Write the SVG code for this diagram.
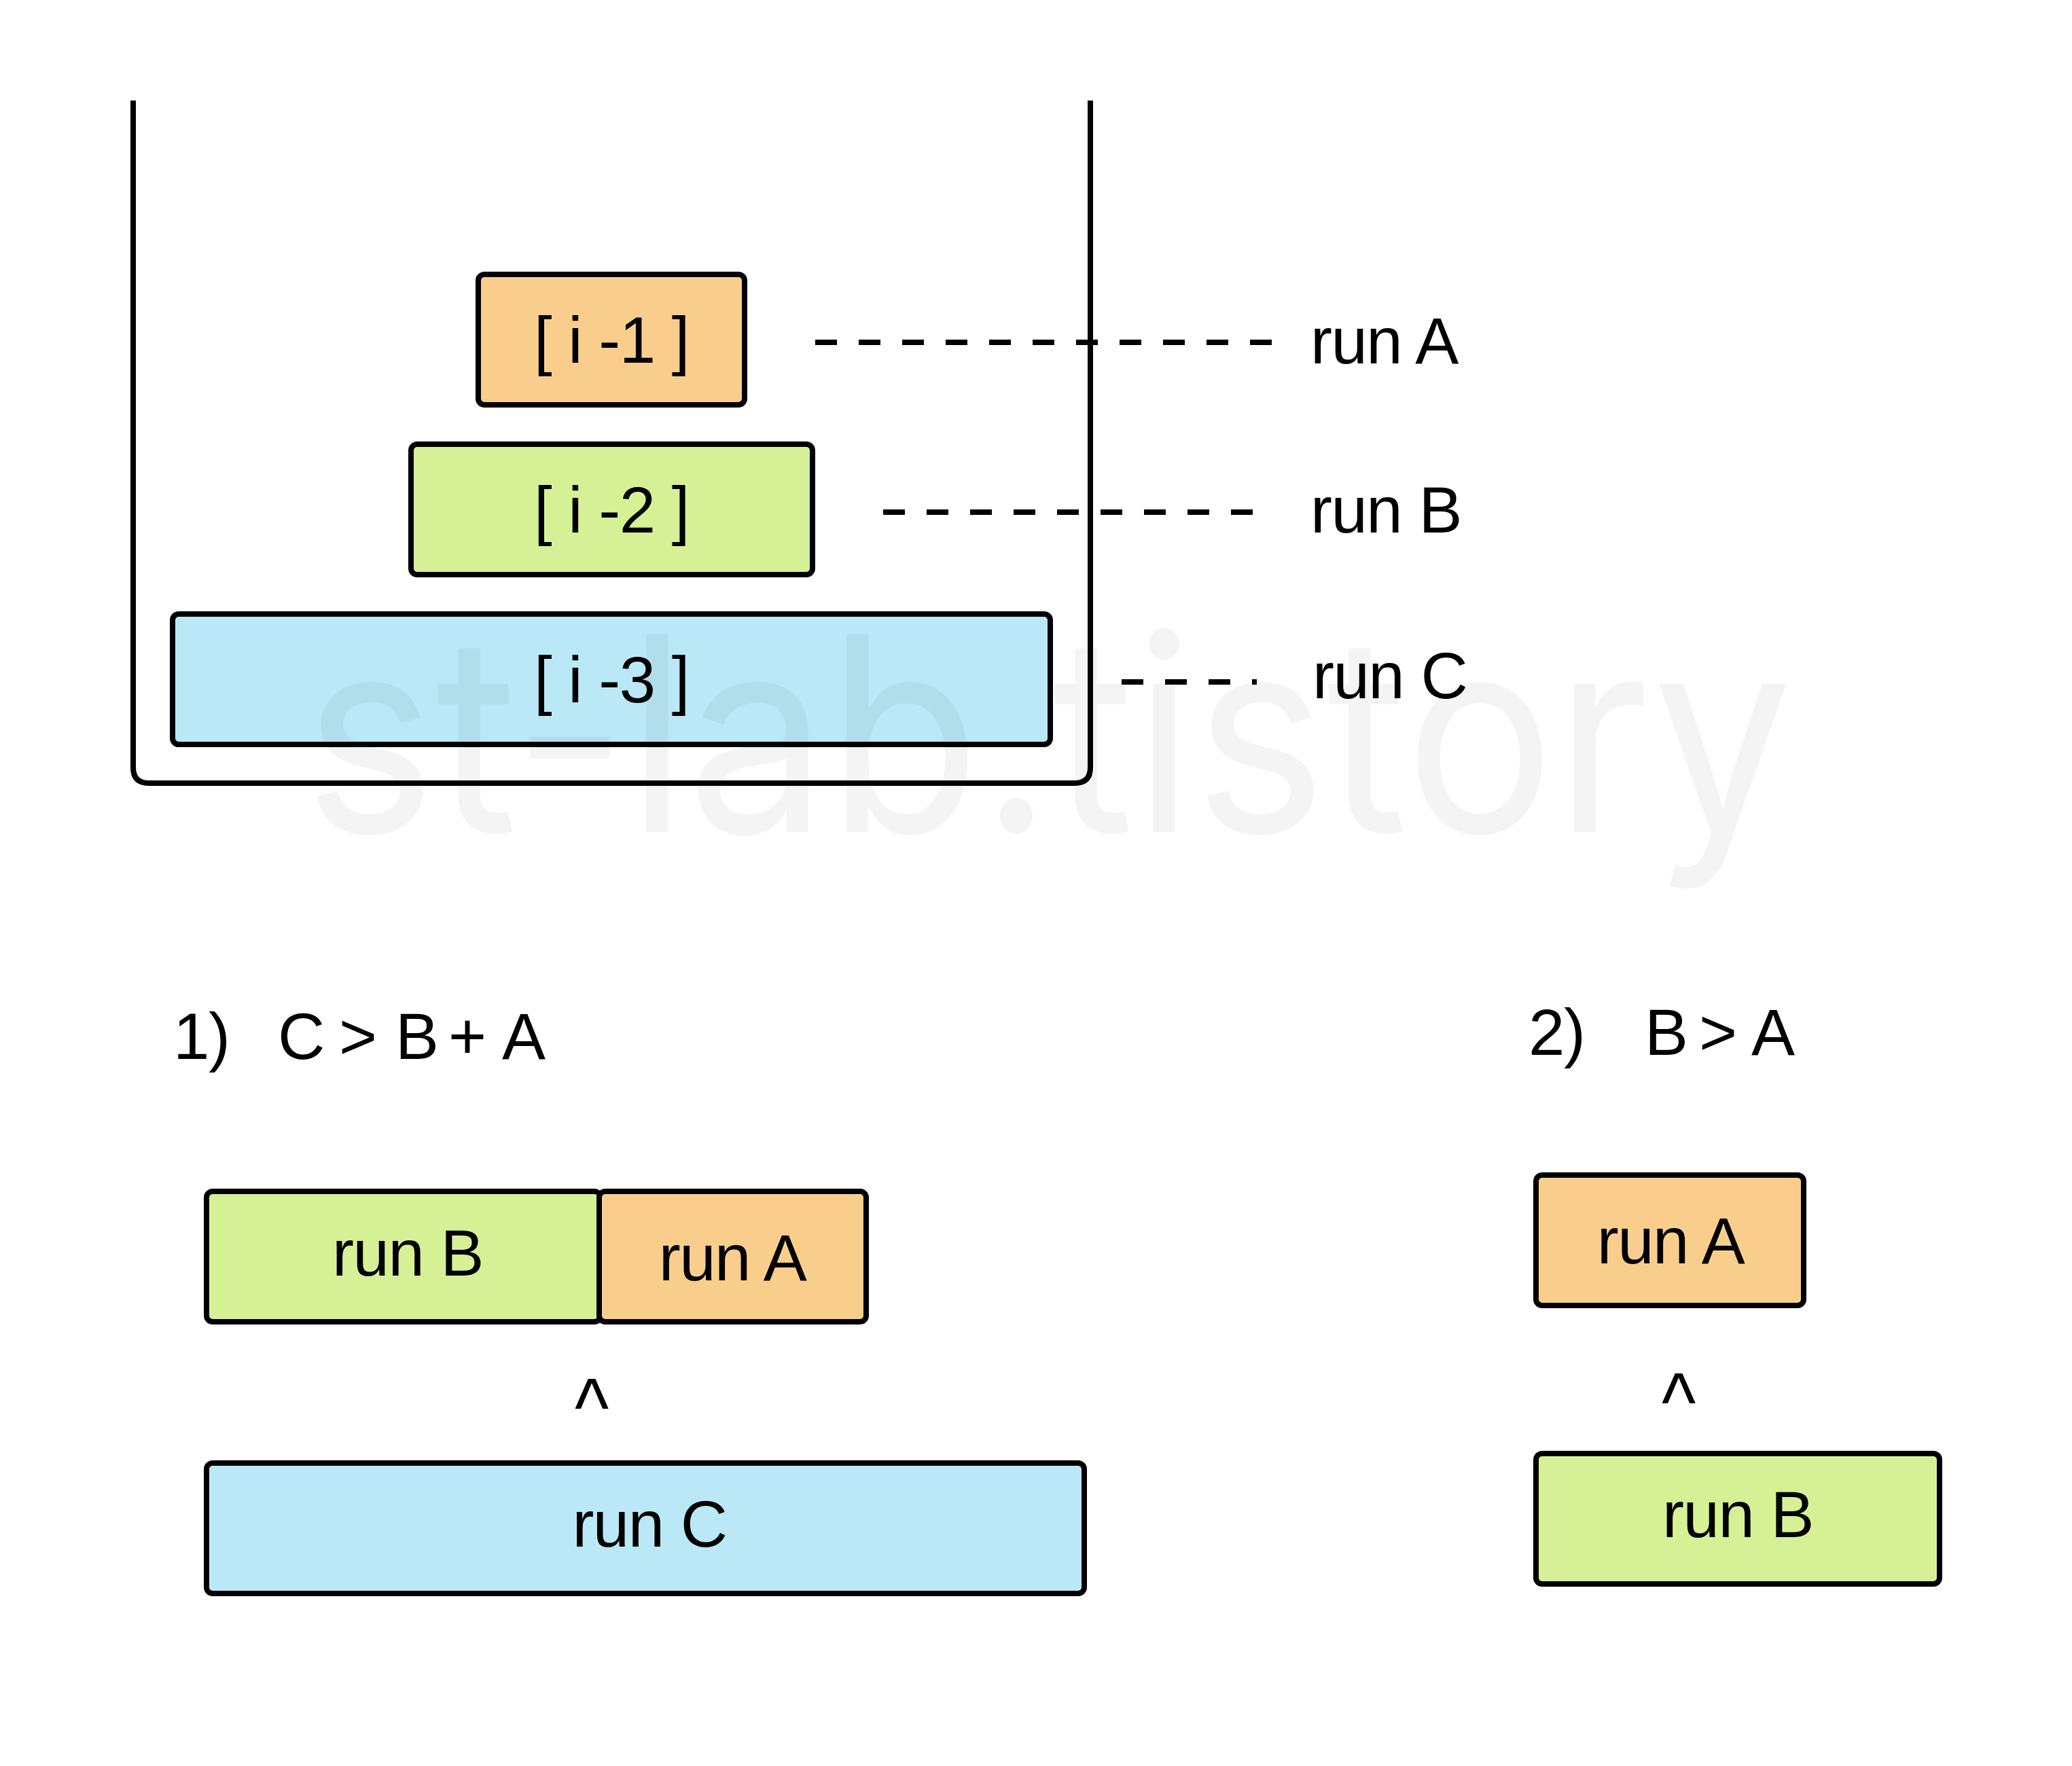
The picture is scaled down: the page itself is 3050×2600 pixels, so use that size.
<svg xmlns="http://www.w3.org/2000/svg" width="3050" height="2600" viewBox="0 0 3050 2600">
<style>
.box{stroke:#000;stroke-width:8}
.a{fill:#F9CE8C}.b{fill:#D6F096}.c{fill:#BAE8F7}
.t{font-family:"Liberation Sans",Arial,sans-serif;font-size:96px;fill:#000;letter-spacing:-1.5px}
.m{text-anchor:middle}
.caret{font-family:"Liberation Sans",Arial,sans-serif;font-size:123px;fill:#000;text-anchor:middle}
.dash{stroke:#000;stroke-width:8;stroke-dasharray:32 32;fill:none}
</style>
<rect width="3050" height="2600" fill="#fff"/>
<g id="container">
<path d="M196,148 V1130 Q196,1153 219,1153 H1582 Q1605,1153 1605,1130 V148" fill="none" stroke="#000" stroke-width="8"/>
</g>
<g id="stack-i1"><rect class="box a" x="704" y="404" width="392" height="192" rx="9"/><text class="t m" x="900" y="534">[ i -1 ]</text></g>
<g id="stack-i2"><rect class="box b" x="605" y="654" width="591" height="192" rx="9"/><text class="t m" x="900" y="784">[ i -2 ]</text></g>
<g id="stack-i3"><rect class="box c" x="254" y="904" width="1292" height="192" rx="9"/><text class="t m" x="900" y="1034">[ i -3 ]</text></g>
<g id="connectors">
<line class="dash" x1="1200" y1="504" x2="1872" y2="504"/>
<line class="dash" x1="1300" y1="754" x2="1844" y2="754"/>
<line class="dash" x1="1651" y1="1004" x2="1850" y2="1004"/>
</g>
<g id="label-runA"><text class="t" x="1929" y="535">run A</text></g>
<g id="label-runB"><text class="t" x="1929" y="784">run B</text></g>
<g id="label-runC"><text class="t" x="1932" y="1028">run C</text></g>
<text x="447" y="1225" font-family="Inter,'Liberation Sans',sans-serif" font-size="400" fill="#000" fill-opacity="0.045" textLength="2192" lengthAdjust="spacingAndGlyphs">st-lab.tistory</text>
<g id="case1-title"><text class="t" y="1559"><tspan x="255">1)</tspan><tspan x="409">C</tspan><tspan x="499">&gt;</tspan><tspan x="582">B</tspan><tspan x="660">+</tspan><tspan x="739">A</tspan></text></g>
<g id="case1-runB"><rect class="box b" x="304" y="1754" width="580" height="192" rx="9"/><text class="t m" x="600" y="1878">run B</text></g>
<g id="case1-runA"><rect class="box a" x="882" y="1754" width="393" height="192" rx="9"/><text class="t m" x="1078" y="1885">run A</text></g>
<g id="case1-cmp"><text class="caret" transform="translate(871,2114) scale(0.87,1)">^</text></g>
<g id="case1-runC"><rect class="box c" x="304" y="2154" width="1292" height="192" rx="9"/><text class="t m" x="956" y="2277">run C</text></g>
<g id="case2-title"><text class="t" y="1553"><tspan x="2250">2)</tspan><tspan x="2421">B</tspan><tspan x="2501">&gt;</tspan><tspan x="2578">A</tspan></text></g>
<g id="case2-runA"><rect class="box a" x="2261" y="1730" width="394" height="192" rx="9"/><text class="t m" x="2459" y="1860">run A</text></g>
<g id="case2-cmp"><text class="caret" transform="translate(2471,2106) scale(0.87,1)">^</text></g>
<g id="case2-runB"><rect class="box b" x="2261" y="2140" width="594" height="192" rx="9"/><text class="t m" x="2558" y="2263">run B</text></g>
</svg>
